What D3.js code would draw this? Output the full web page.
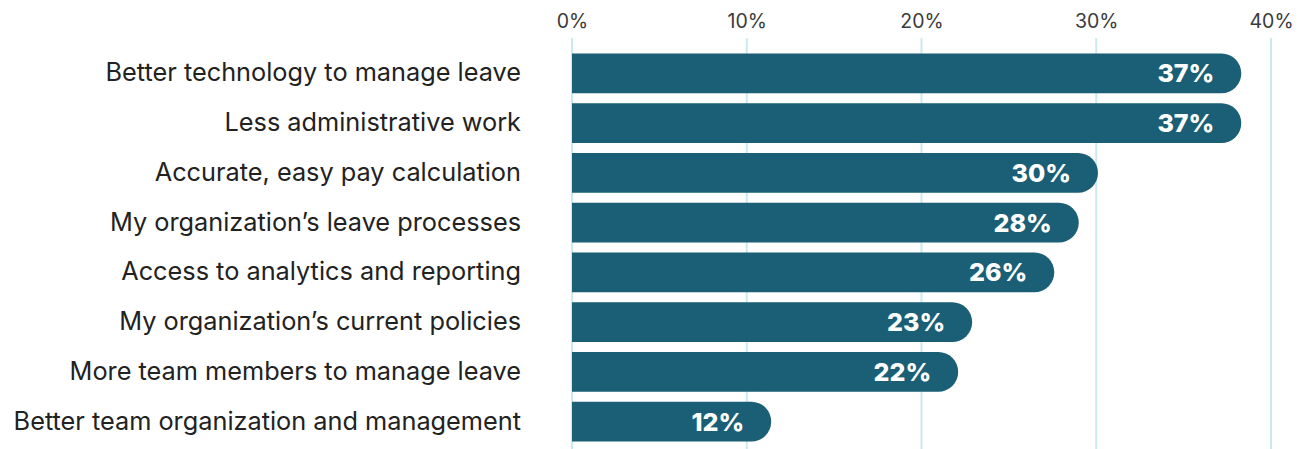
<!DOCTYPE html>
<html>
<head>
<meta charset="utf-8">
<script src="https://cdn.jsdelivr.net/npm/d3@7"></script>
<style>
  body { margin: 0; background: #fff; }
  svg text { font-family: Inter, "Noto Sans", sans-serif; }
</style>
</head>
<body>
<svg id="chart" width="1307" height="449"></svg>
<script>
var categories = [
    "Better technology to manage leave",
    "Less administrative work",
    "Accurate, easy pay calculation",
    "My organization\u2019s leave processes",
    "Access to analytics and reporting",
    "My organization\u2019s current policies",
    "More team members to manage leave",
    "Better team organization and management"
];
// bar lengths (percent)
var values = [38.3, 38.3, 30.1, 29.0, 27.6, 22.9, 22.1, 11.4];
var valueLabels = ["37%", "37%", "30%", "28%", "26%", "23%", "22%", "12%"];
var ticks = [0, 10, 20, 30, 40];

var svg = d3.select("#chart");

var x = d3.scaleLinear()
    .domain([0, 40])
    .range([572, 1271]);

var y = d3.scaleBand()
    .domain(categories)
    .range([48.5, 446.5])
    .paddingInner(0.2)
    .paddingOuter(0.1);

// gridlines
svg.append("g")
    .selectAll("line")
    .data(ticks)
    .join("line")
    .attr("x1", d => x(d))
    .attr("x2", d => x(d))
    .attr("y1", 38)
    .attr("y2", 449)
    .attr("stroke", "#cce9f0")
    .attr("stroke-width", 2);

// top axis labels
var xAxis = d3.axisTop(x)
    .tickValues(ticks)
    .tickFormat(d => d + "%")
    .tickSize(0)
    .tickPadding(0);

svg.append("g")
    .attr("transform", "translate(0,28)")
    .call(xAxis)
    .call(g => g.select(".domain").remove())
    .call(g => g.selectAll("text")
        .attr("dy", 0)
        .attr("font-size", 19.5)
        .attr("fill", "#3a3a3a")
        .attr("font-family", "Inter, 'Noto Sans', sans-serif"));

// category labels
var yAxis = d3.axisLeft(y).tickSize(0).tickPadding(0);

svg.append("g")
    .attr("transform", "translate(521,0)")
    .call(yAxis)
    .call(g => g.select(".domain").remove())
    .call(g => g.selectAll("text")
        .attr("font-size", 25.3)
        .attr("fill", "#222")
        .attr("font-family", "Inter, 'Noto Sans', sans-serif"));

// bars with rounded right end
function barPath(d, i) {
    var x0 = x(0), x1 = x(d), y0 = y(categories[i]), h = y.bandwidth(), r = h / 2;
    return "M" + x0 + "," + y0 +
        "H" + (x1 - r) +
        "A" + r + "," + r + " 0 0 1 " + (x1 - r) + "," + (y0 + h) +
        "H" + x0 + "Z";
}

svg.append("g")
    .selectAll("path")
    .data(values)
    .join("path")
    .attr("d", barPath)
    .attr("fill", "#1a5f75");

svg.append("g")
    .selectAll("text")
    .data(values)
    .join("text")
    .attr("x", d => x(d) - 27)
    .attr("y", (d, i) => y(categories[i]) + y.bandwidth() / 2)
    .attr("dy", "0.36em")
    .attr("text-anchor", "end")
    .attr("fill", "#fff")
    .attr("font-size", 25)
    .attr("font-weight", 800)
    .text((d, i) => valueLabels[i]);
</script>
</body>
</html>
